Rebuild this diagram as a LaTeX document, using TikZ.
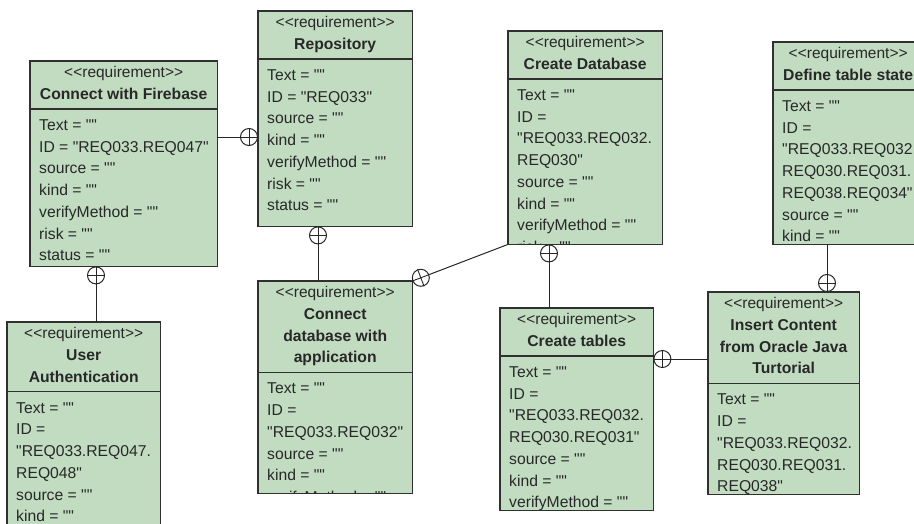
\documentclass[tikz,border=0pt]{standalone}
\usepackage{fontspec}
\newfontfamily\vpfont{Liberation Sans}
\usetikzlibrary{calc}

\definecolor{reqfill}{RGB}{193,220,193}
\definecolor{reqline}{RGB}{48,48,48}
\definecolor{reqtext}{RGB}{40,40,40}

\tikzset{
  x=1pt, y=-1pt,
  reqbody/.style={fill=reqfill, draw=none, inner sep=0pt},
  frame/.style={draw=reqline, line width=1.2pt},
  divider/.style={draw=reqline, line width=1.1pt},
  stereo/.style={anchor=base, inner sep=0pt, text=reqtext,
    font=\vpfont\fontsize{15.5}{18}\selectfont},
  reqtitle/.style={anchor=base, inner sep=0pt, text=reqtext,
    font=\vpfont\bfseries\fontsize{15.7}{18}\selectfont},
  attr/.style={anchor=base west, inner sep=0pt, text=reqtext,
    font=\vpfont\fontsize{15.7}{18}\selectfont},
  link/.style={draw=black!85, line width=1pt},
  own/.style={circle, draw=black!85, line width=1pt, fill=white,
    minimum size=17pt, inner sep=0pt},
}

% requirement box: name, x, y, width, height, title lines, attribute lines
\newcommand\reqbox[7]{%
  \node[reqbody, minimum width=#4pt, minimum height=#5pt, anchor=north west] (#1) at (#2,#3) {};
  \begin{scope}
    \clip (#1.north west) rectangle (#1.south east);
    \node[stereo] (#1-s) at ($(#1.north)+(0,16)$) {\textless\textless requirement\textgreater\textgreater};
    \foreach \rbT [count=\rbi] in {#6} {
      \pgfmathsetmacro\rbty{38.5+21.7*(\rbi-1)}
      \node[reqtitle] (#1-t\rbi) at ($(#1.north)+(0,\rbty)$) {\rbT};
      \xdef\rblastty{\rbty}
    }
    \pgfmathsetmacro\rbdy{\rblastty+9.5}
    \draw[divider] ($(#1.north west)+(0,\rbdy)$) -- ($(#1.north east)+(0,\rbdy)$);
    \foreach \rbA [count=\rbi] in {#7} {
      \pgfmathsetmacro\rbay{\rbdy+21.5+21.7*(\rbi-1)}
      \node[attr] (#1-a\rbi) at ($(#1.north west)+(9,\rbay)$) {\rbA};
    }
  \end{scope}
  \draw[frame] (#1.north west) rectangle (#1.south east);
}

% plus sign inside an ownership circle, turned by the given angle
\newcommand\owncross[2]{%
  \draw[black!85, line width=0.9pt] (#1.#2) -- (#1.{#2+180}) (#1.{#2+90}) -- (#1.{#2+270});
}

\begin{document}
\begin{tikzpicture}
  \useasboundingbox (0,0) rectangle (914,523);
  \clip (0,0) rectangle (914,523);

  \reqbox{fb}{30}{61}{187}{205}{Connect with Firebase}
    {Text = "", ID = "REQ033.REQ047", source = "", kind = "", verifyMethod = "", risk = "", status = ""}
  \reqbox{repo}{258}{11}{154}{215}{Repository}
    {Text = "", ID = "REQ033", source = "", kind = "", verifyMethod = "", risk = "", status = ""}
  \reqbox{cdb}{508}{31}{154}{213}{Create Database}
    {Text = "", ID =, "REQ033.REQ032., REQ030", source = "", kind = "", verifyMethod = "", risk = ""}
  \reqbox{dts}{773}{42}{150}{202}{Define table state}
    {Text = "", ID =, "REQ033.REQ032., REQ030.REQ031., REQ038.REQ034", source = "", kind = ""}
  \reqbox{ua}{7}{322}{153}{230}{User, Authentication}
    {Text = "", ID =, "REQ033.REQ047., REQ048", source = "", kind = ""}
  \reqbox{cda}{258}{281}{154}{212}{Connect, database with, application}
    {Text = "", ID =, "REQ033.REQ032", source = "", kind = "", verifyMethod = ""}
  \reqbox{ct}{500}{308}{153}{202}{Create tables}
    {Text = "", ID =, "REQ033.REQ032., REQ030.REQ031", source = "", kind = "", verifyMethod = ""}
  \reqbox{ic}{708}{292}{151}{202}{Insert Content, from Oracle Java, Turtorial}
    {Text = "", ID =, "REQ033.REQ032., REQ030.REQ031., REQ038"}

  % containment links
  \node[own] (k1) at ($(repo.north west)+(-9,126)$) {};
  \draw[link] (fb.east |- k1) -- (k1.west);
  \owncross{k1}{0}

  \node[own] (k2) at ($(fb.south west)+(66,9)$) {};
  \draw[link] (k2.south) -- (k2 |- ua.north);
  \owncross{k2}{0}

  \node[own] (k3) at ($(repo.south west)+(60,9)$) {};
  \draw[link] (k3.south) -- (k3 |- cda.north);
  \owncross{k3}{0}

  \node[own] (k4) at ($(cda.north east)!9pt!(cdb.south west)$) {};
  \draw[link] (k4) -- (cdb.south west);
  \owncross{k4}{21}

  \node[own] (k5) at ($(cdb.south west)+(41,9)$) {};
  \draw[link] (k5.south) -- (k5 |- ct.north);
  \owncross{k5}{0}

  \node[own] (k6) at ($(ic.north west)+(119,-9)$) {};
  \draw[link] (k6 |- dts.south) -- (k6.north);
  \owncross{k6}{0}

  \node[own] (k7) at ($(ct.north east)+(9,51)$) {};
  \draw[link] (k7.east) -- (k7 -| ic.west);
  \owncross{k7}{0}
\end{tikzpicture}
\end{document}
